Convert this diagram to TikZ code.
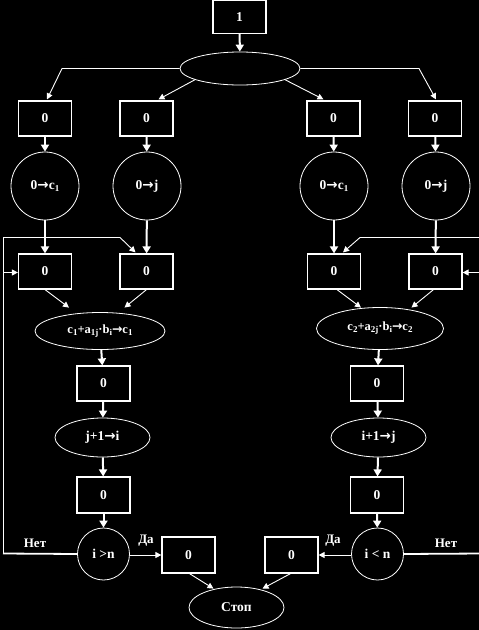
\documentclass[tikz,border=0pt]{standalone}
\usepackage{fontspec}
\setmainfont{Liberation Serif}
\newfontfamily\arrfont{DejaVu Sans}
\usetikzlibrary{shapes.geometric,arrows.meta,calc}
\newcommand{\sbs}[1]{\raisebox{-0.35ex}{\fontsize{9}{9}\selectfont #1}}
\newcommand{\ar}{{\arrfont\bfseries →}}
\begin{document}
\begin{tikzpicture}[x=1pt,y=-1pt,
  every node/.style={text=white, font=\bfseries\fontsize{13.5}{13.5}\selectfont},
  box/.style={draw=white, line width=1.2pt, minimum width=53pt, minimum height=35pt, inner sep=0pt},
  circ/.style={circle, draw=white, line width=0.8pt, minimum size=68pt, inner sep=0pt},
  ell/.style={ellipse, draw=white, line width=0.8pt, inner sep=0pt},
  lab/.style={font=\bfseries\fontsize{13}{13}\selectfont},
  tk/.style={white, line width=2pt, -{Triangle[width=8pt,length=7pt]}},
  tn/.style={white, line width=0.9pt, -{Triangle[width=6pt,length=6pt]}},
  ln/.style={white, line width=1.8pt},
  lnthin/.style={white, line width=1pt}]
\fill[black] (0,0) rectangle (479,630);
\useasboundingbox (0,0) rectangle (479,630);
% nodes
\node[box, minimum height=33pt] (top) at (239.5,17) {1};
\node[ell, minimum width=120pt, minimum height=33pt] (ell0) at (240,68.5) {};
\node[box] (b1) at (45,118.5) {0};
\node[box] (b2) at (146.5,118.5) {0};
\node[box] (b3) at (333.5,118.5) {0};
\node[box] (b4) at (435,118.5) {0};
\node[circ] (c1) at (45,186) {0\ar c\sbs{1}};
\node[circ] (c2) at (147,186) {0\ar j};
\node[circ] (c3) at (334,186) {0\ar c\sbs{1}};
\node[circ] (c4) at (436,186) {0\ar j};
\node[box] (d1) at (45,271.5) {0};
\node[box] (d2) at (146.5,271.5) {0};
\node[box] (d3) at (334,271.5) {0};
\node[box] (d4) at (435.5,271.5) {0};
\node[ell, minimum width=130pt, minimum height=37pt, font=\bfseries\fontsize{12.5}{12.5}\selectfont] (e1) at (100,331) {c\sbs{1}+a\sbs{1j}·b\sbs{i}\ar c\sbs{1}};
\node[ell, minimum width=127pt, minimum height=42pt, font=\bfseries\fontsize{12.5}{12.5}\selectfont] (e2) at (380,328.5) {c\sbs{2}+a\sbs{2j}·b\sbs{i}\ar c\sbs{2}};
\node[box] (f1) at (103.5,383.5) {0};
\node[box] (f2) at (377,383.5) {0};
\node[ell, minimum width=95pt, minimum height=39pt] (g1) at (102.5,437.5) {j+1\ar i};
\node[ell, minimum width=95pt, minimum height=39pt] (g2) at (378.5,437.5) {i+1\ar j};
\node[box, minimum height=36pt] (h1) at (103.5,495) {0};
\node[box, minimum height=36pt] (h2) at (377,495) {0};
\node[circ, minimum size=52pt] (k1) at (103.5,554) {i \textgreater n};
\node[circ, minimum size=52pt] (k2) at (377.5,554) {i \textless{} n};
\node[box, minimum height=36pt] (y1) at (188.5,555) {0};
\node[box, minimum height=36pt] (y2) at (291.5,555) {0};
\node[ell, minimum width=95pt, minimum height=41pt] (stop) at (236.5,607.5) {Стоп};
\node[lab] (net1) at (35,543) {Нет};
\node[lab] (da1) at (146,541) {Да};
\node[lab] (da2) at (333,541) {Да};
\node[lab] (net2) at (446,543) {Нет};
% coordinates
\coordinate (cl) at (62,68.5);
\coordinate (cr) at (419,68.5);
\coordinate (L1) at (3,553.5);
\coordinate (L2) at (3,237.5);
\coordinate (L3) at (120,237.5);
\coordinate (L4) at (3,272.5);
\coordinate (R1) at (481,553.5);
\coordinate (R2) at (481,237.5);
\coordinate (R3) at (360,237.5);
\coordinate (R4) at (481,272.5);
% connectors
\draw[tk] (top) -- (ell0);
\draw[tn] (ell0.west) -- (cl) -- ($(b1.north)+(2,-1)$);
\draw[tn] (ell0.east) -- (cr) -- ($(b4.north)+(1,-1)$);
\draw[tn] (ell0.194) -- ($(b2.north)+(12,-1)$);
\draw[tn] (ell0.346) -- ($(b3.north)+(-10,-1)$);
\foreach \i in {1,2,3,4}{
  \draw[tk] (b\i) -- (c\i);
  \draw[tk] (c\i) -- (d\i);
}
\draw[ln] (k1.west) -- (L1);
\draw[lnthin] (L1) -- (L2);
\draw[ln] (L2) -- (L3);
\draw[tn] (L3) -- ($(d2.north)+(-11,-1)$);
\draw[tn] (L4) -- (L4 -| d1.west);
\draw[ln] (k2.east) -- (R1);
\draw[ln] (R2) -- (R3);
\draw[tn] (R3) -- ($(d3.north)+(9,-1)$);
\draw[tn] (R4) -- (R4 -| d4.east);
\draw[tn] (d1.south) -- ++(24,18);
\draw[tn] (d2.south) -- ++(-22,18);
\draw[tn] ($(d3.south)+(3,0)$) -- ++(24,18);
\draw[tn] ($(d4.south)+(-2,0)$) -- ++(-22,18);
\draw[tk] (e1) -- (f1);
\draw[tk] (f1) -- (g1);
\draw[tk] (g1) -- (h1);
\draw[tk] (h1) -- (k1);
\draw[tk] (e2) -- (f2);
\draw[tk] (f2) -- (g2);
\draw[tk] (g2) -- (h2);
\draw[tk] (h2) -- (k2);
\draw[tn] (k1.east |- y1.west) -- (y1.west);
\draw[tn] (k2.west |- y2.east) -- (y2.east);
\draw[tn] ($(y1.south)+(1,0)$) -- ++(24,15);
\draw[tn] ($(y2.south)+(-1,0)$) -- ++(-28,15);
\end{tikzpicture}
\end{document}
